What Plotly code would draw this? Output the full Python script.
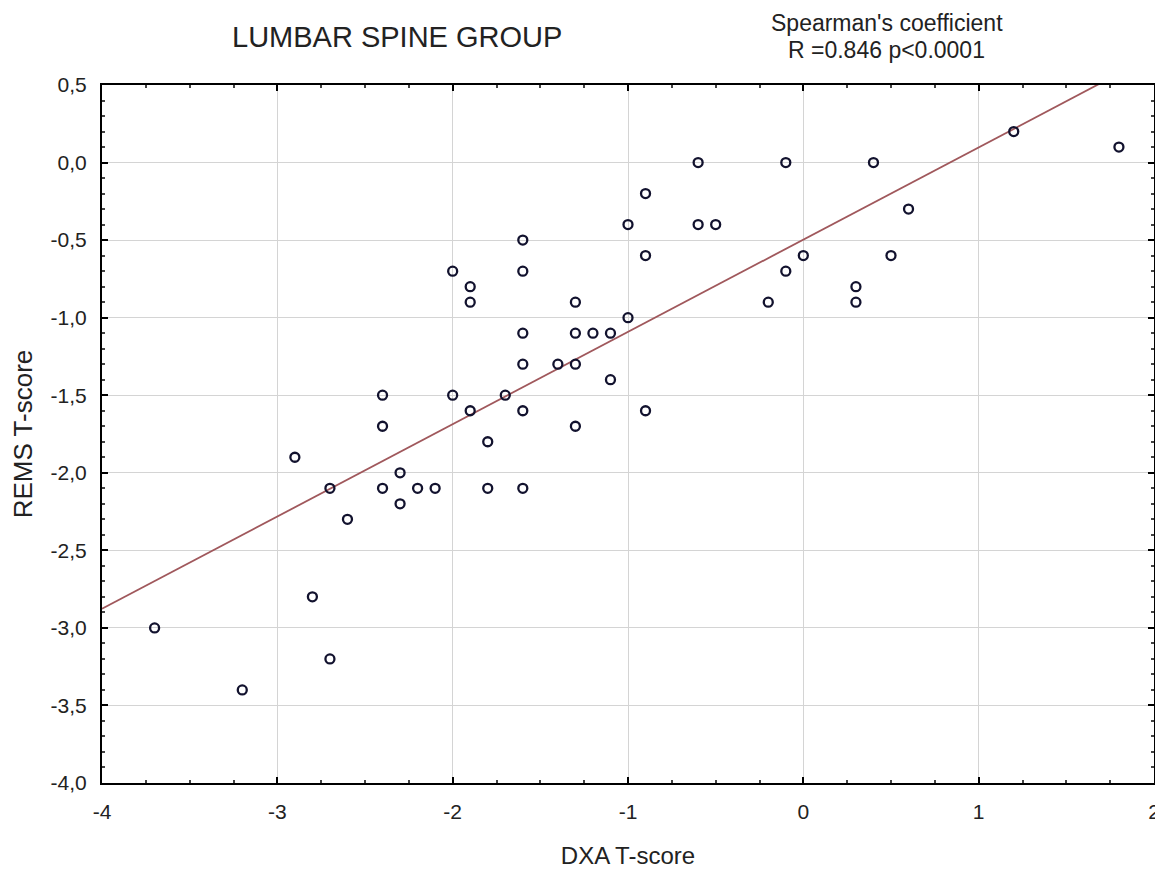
import numpy as np
import plotly.graph_objects as go

# DXA T-score (x) and REMS T-score (y)
dxa = [-3.7, -3.2, -2.9, -2.8, -2.7, -2.7, -2.6, -2.4, -2.4, -2.4,
       -2.3, -2.3, -2.2, -2.1, -2.0, -2.0, -1.9, -1.9, -1.9, -1.8,
       -1.8, -1.7, -1.6, -1.6, -1.6, -1.6, -1.6, -1.6, -1.4, -1.3,
       -1.3, -1.3, -1.3, -1.2, -1.1, -1.1, -1.0, -1.0, -0.9, -0.9,
       -0.9, -0.6, -0.6, -0.5, -0.2, -0.1, -0.1, 0.0, 0.3, 0.3,
       0.4, 0.5, 0.6, 1.2, 1.8]
rems = [-3.0, -3.4, -1.9, -2.8, -2.1, -3.2, -2.3, -1.5, -1.7, -2.1,
        -2.0, -2.2, -2.1, -2.1, -0.7, -1.5, -0.8, -0.9, -1.6, -1.8,
        -2.1, -1.5, -0.5, -0.7, -1.1, -1.3, -1.6, -2.1, -1.3, -0.9,
        -1.1, -1.3, -1.7, -1.1, -1.1, -1.4, -0.4, -1.0, -0.2, -0.6,
        -1.6, 0.0, -0.4, -0.4, -0.9, 0.0, -0.7, -0.6, -0.8, -0.9,
        0.0, -0.6, -0.3, 0.2, 0.1]

# Regression line (as drawn in the reference)
fit_slope = 0.595
fit_intercept = -0.497
fit_x = [-4.0, 2.0]
fit_y = [fit_intercept + fit_slope * v for v in fit_x]

x_tick_vals = [-4, -3, -2, -1, 0, 1, 2]
x_tick_text = ["-4", "-3", "-2", "-1", "0", "1", "2"]
y_tick_vals = [0.5, 0.0, -0.5, -1.0, -1.5, -2.0, -2.5, -3.0, -3.5, -4.0]
y_tick_text = ["0,5", "0,0", "-0,5", "-1,0", "-1,5", "-2,0", "-2,5", "-3,0", "-3,5", "-4,0"]

title_text = "LUMBAR SPINE GROUP"
stat_line1 = "Spearman's coefficient"
stat_line2 = "R =0.846 p<0.0001"

FONT = "Liberation Sans, Arial, sans-serif"
TXT = "#222222"

fig = go.Figure()
fig.add_trace(go.Scatter(
    x=fit_x, y=fit_y, mode="lines",
    line=dict(color="#a0585c", width=1.8),
    hoverinfo="skip", showlegend=False,
))
fig.add_trace(go.Scatter(
    x=dxa, y=rems, mode="markers",
    marker=dict(symbol="circle-open", size=9, color="#12122e",
                line=dict(width=2.3, color="#12122e")),
    showlegend=False,
))

axis_common = dict(
    showline=True, linecolor="black", linewidth=2, mirror="ticks",
    ticks="inside", ticklen=6, tickwidth=1.5, tickcolor="black",
    showgrid=True, gridcolor="#d4d4d4", gridwidth=1,
    zeroline=False,
    tickfont=dict(family=FONT, size=21, color=TXT),
)

fig.update_xaxes(
    range=[-4, 2], tickvals=x_tick_vals, ticktext=x_tick_text,
    minor=dict(dtick=0.25, tick0=0, ticks="inside", ticklen=3,
               tickcolor="#444444", showgrid=False),
    title=dict(text="DXA T-score", font=dict(family=FONT, size=24, color=TXT),
               standoff=25),
    ticklabelstandoff=9,
    **axis_common,
)
fig.update_yaxes(
    range=[-4, 0.5], tickvals=y_tick_vals, ticktext=y_tick_text,
    minor=dict(dtick=0.1, tick0=0, ticks="inside", ticklen=3,
               tickcolor="#444444", showgrid=False),
    title=dict(text="REMS T-score", font=dict(family=FONT, size=26, color=TXT),
               standoff=20),
    ticklabelstandoff=9,
    **axis_common,
)

fig.update_layout(
    width=1155, height=861,
    margin=dict(l=94, r=9, t=77, b=86, autoexpand=False),
    paper_bgcolor="white", plot_bgcolor="white",
    font=dict(family=FONT, color=TXT),
    annotations=[
        dict(text=title_text, xref="paper", yref="paper", x=0.2804, y=1.069,
             xanchor="center", yanchor="middle", showarrow=False,
             font=dict(family=FONT, size=29, color=TXT)),
        dict(text=stat_line1, xref="paper", yref="paper", x=0.746, y=1.089,
             xanchor="center", yanchor="middle", showarrow=False,
             font=dict(family=FONT, size=23, color=TXT)),
        dict(text=stat_line2, xref="paper", yref="paper", x=0.746, y=1.050,
             xanchor="center", yanchor="middle", showarrow=False,
             font=dict(family=FONT, size=23, color=TXT)),
    ],
)

fig.write_html("out.html")
